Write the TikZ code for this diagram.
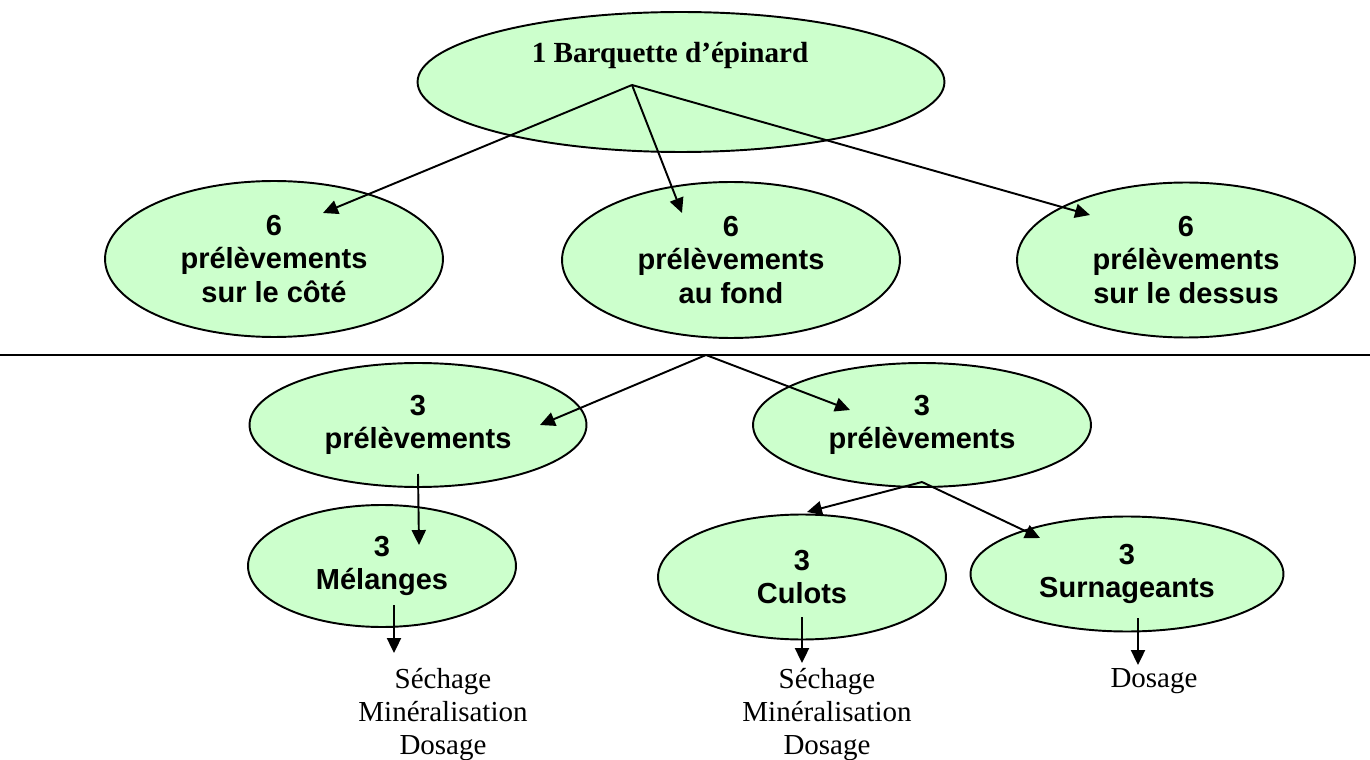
\documentclass[tikz,border=0pt]{standalone}
\usepackage{fontspec}
\setmainfont{Liberation Serif}
\setsansfont{Liberation Sans}
\usepackage{tikz}
\usetikzlibrary{shapes.geometric, arrows.meta, calc}
\definecolor{leafgreen}{HTML}{CCFFCC}
\tikzset{bubble/.style={ellipse,draw,line width=1.1pt,fill=leafgreen,inner sep=0pt,align=center,font=\sffamily\bfseries\fontsize{16.5}{18.8}\selectfont},
         topbubble/.style={bubble,font=\rmfamily\bfseries\fontsize{16.6}{18.8}\selectfont,text height=11pt,text depth=33pt},
         outcome/.style={align=center,inner sep=0pt,font=\rmfamily\fontsize{16.5}{18.8}\selectfont},
         divider/.style={line width=1.1pt},
         arrow/.style={-{Triangle[length=8.5pt,width=8pt]},line width=1.1pt}}

\begin{document}
\begin{tikzpicture}[x=0.02cm, y=-0.02cm]
    \useasboundingbox (0,0) rectangle (1370,760);
    \node (barq) [topbubble, minimum width=10.54cm, minimum height=2.8cm] at (681,82) {1 Barquette d’épinard\hspace{12.5pt}};
    \node (cote) [bubble, minimum width=6.76cm, minimum height=3.12cm] at (274,259) {6\\prélèvements\\sur le côté};
    \node (fond) [bubble, minimum width=6.76cm, minimum height=3.12cm] at (731,260) {6\\prélèvements\\au fond};
    \node (dessus) [bubble, minimum width=6.76cm, minimum height=3.1cm] at (1186,260) {6\\prélèvements\\sur le dessus};
    \coordinate (sepL) at (0,355);
    \coordinate (sepR) at (1370,355);
    \coordinate (split) at (706,355);
    \node (prelA) [bubble, minimum width=6.74cm, minimum height=2.48cm] at (418,425) {3\\prélèvements};
    \node (prelB) [bubble, minimum width=6.76cm, minimum height=2.48cm] at (922,425) {3\\prélèvements};
    \node (mel) [bubble, minimum width=5.36cm, minimum height=2.44cm] at (382,566) {3\\Mélanges};
    \node (cul) [bubble, minimum width=5.76cm, minimum height=2.5cm] at (802,577) {3\\Culots};
    \node (surn) [bubble, minimum width=6.26cm, minimum height=2.3cm] at (1127,574) {3\\Surnageants};
    \node (melOut) [outcome, anchor=north] at (443,668) {Séchage\\Minéralisation\\Dosage};
    \node (culOut) [outcome, anchor=north] at (827,668) {Séchage\\Minéralisation\\Dosage};
    \node (surnOut) [outcome, anchor=base] at (1154,687) {Dosage};
    \coordinate (barqFoot) at ($(barq.center)+(-49,3)$);
    \coordinate (coteIn) at ($(cote.center)+(49,-46)$);
    \coordinate (fondIn) at ($(fond.center)+(-49,-47)$);
    \coordinate (dessusIn) at ($(dessus.center)+(-96,-45)$);
    \coordinate (prelAIn) at ($(prelA.center)+(122,0)$);
    \coordinate (prelAFoot) at ($(prelA.center)+(0,49)$);
    \coordinate (prelBIn) at ($(prelB.center)+(-72,-15)$);
    \coordinate (prelBFoot) at ($(prelB.center)+(0,57)$);
    \coordinate (melIn) at ($(mel.center)+(37,-21)$);
    \coordinate (melFoot) at ($(mel.center)+(12,39)$);
    \coordinate (melTip) at ($(melFoot)+(0,48)$);
    \coordinate (culIn) at ($(cul.center)+(5,-65)$);
    \coordinate (culFoot) at ($(cul.center)+(0,40)$);
    \coordinate (culTip) at ($(culFoot)+(0,46)$);
    \coordinate (surnIn) at ($(surn.center)+(-87,-36)$);
    \coordinate (surnFoot) at ($(surn.center)+(11,44)$);
    \coordinate (surnTip) at ($(surnFoot)+(0,47)$);
    \draw[divider] (sepL) -- (sepR);
    \draw[arrow] (barqFoot) -- (coteIn);
    \draw[arrow] (barqFoot) -- (fondIn);
    \draw[arrow] (barqFoot) -- (dessusIn);
    \draw[arrow] (split) -- (prelAIn);
    \draw[arrow] (split) -- (prelBIn);
    \draw[arrow] (prelAFoot) -- (melIn);
    \draw[arrow] (prelBFoot) -- (culIn);
    \draw[arrow] (prelBFoot) -- (surnIn);
    \draw[arrow] (melFoot) -- (melTip);
    \draw[arrow] (culFoot) -- (culTip);
    \draw[arrow] (surnFoot) -- (surnTip);
\end{tikzpicture}
\end{document}
